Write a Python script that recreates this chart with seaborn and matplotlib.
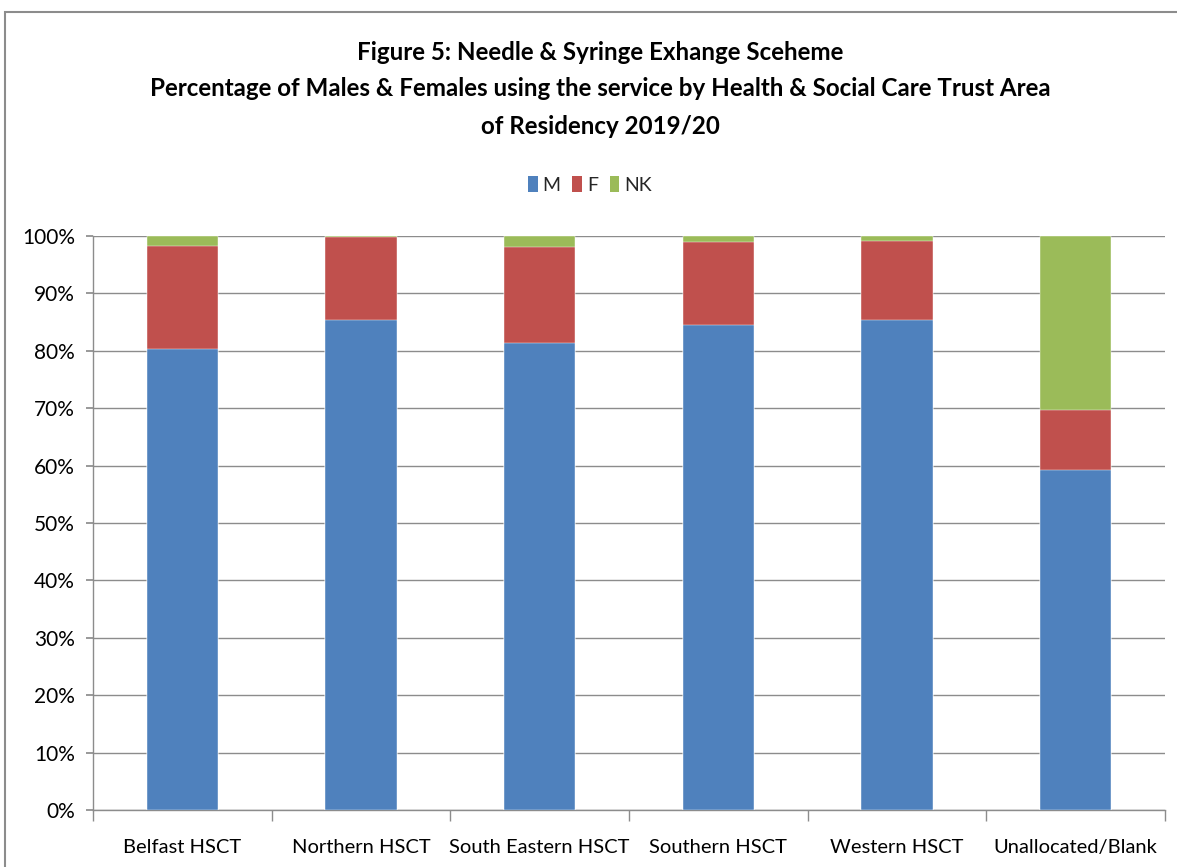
import matplotlib
matplotlib.use("Agg")
import matplotlib.pyplot as plt
import seaborn as sns
import pandas as pd
import numpy as np
from matplotlib.patches import Rectangle, Patch
from matplotlib.ticker import PercentFormatter

categories = ["Belfast HSCT", "Northern HSCT", "South Eastern HSCT", "Southern HSCT", "Western HSCT", "Unallocated/Blank"]
male = [80.4, 85.3, 81.4, 84.5, 85.3, 59.2]
female = [17.9, 14.5, 16.7, 14.5, 13.9, 10.5]
nk = [1.7, 0.2, 1.9, 1.0, 0.8, 30.3]
series = ["M", "F", "NK"]
colors = {"M": "#4F81BD", "F": "#C0504D", "NK": "#9BBB59"}

sns.set_theme(style="white")
plt.rcParams['font.family'] = ['Lato', 'DejaVu Sans']

fig = plt.figure(figsize=(11.77, 8.67), dpi=100)
ax = fig.add_axes([93/1177, 1-810/867, (1165-93)/1177, (810-236)/867])

df = pd.DataFrame({"cat": categories, "M": male, "F": female, "NK": nk})
df["cum_M"] = df["M"]
df["cum_F"] = df["M"] + df["F"]
df["cum_NK"] = df["M"] + df["F"] + df["NK"]

for s in ["NK", "F", "M"]:
    sns.barplot(data=df, x="cat", y="cum_" + s, color=colors[s], width=0.4,
                ax=ax, saturation=1, edgecolor="white", linewidth=0.3, zorder=3)

ax.set_ylim(0, 100)
ax.set_xlim(-0.5, 5.5)
ax.yaxis.set_major_locator(matplotlib.ticker.MultipleLocator(10))
ax.yaxis.set_major_formatter(PercentFormatter(decimals=0))
ax.grid(axis="y", color="#8c8c8c", linewidth=1, zorder=0)
ax.set_axisbelow(True)
ax.set_xlabel("")
ax.set_ylabel("")
for side in ["top", "right"]:
    ax.spines[side].set_visible(False)
for side in ["left", "bottom"]:
    ax.spines[side].set_color("#8c8c8c")
    ax.spines[side].set_linewidth(1)
ax.tick_params(axis="y", left=True, length=5, color="#8c8c8c", labelsize=15, pad=8, labelcolor="black")
ax.set_xticks(np.arange(len(categories)))
ax.set_xticklabels(categories)
ax.set_xticks(np.arange(-0.5, 6.0, 1.0), minor=True)
ax.tick_params(axis="x", which="major", length=0, labelsize=14.5, pad=21, labelcolor="black")
ax.tick_params(axis="x", which="minor", bottom=True, length=8, color="#8c8c8c")

handles = [Patch(facecolor=colors[s], edgecolor="none") for s in series]
fig.legend(handles, series, loc="center", bbox_to_anchor=(590/1177, 1-185/867),
           ncol=3, frameon=False, fontsize=14, handlelength=0.5, handleheight=0.9,
           handletextpad=0.25, columnspacing=0.6)

title_kw = dict(ha="center", va="center", fontsize=17.4, fontweight="bold", color="black")
tx = 600/1177
fig.text(tx, 1-52/867, "Figure 5: Needle & Syringe Exhange Sceheme", **title_kw)
fig.text(tx, 1-89/867, "Percentage of Males & Females using the service by Health & Social Care Trust Area", **title_kw)
fig.text(tx, 1-126/867, "of Residency 2019/20", **title_kw)

fig.patches.append(Rectangle((5/1177, -0.1), 1.2, 1 - 12/867 + 0.1, transform=fig.transFigure,
                             fill=False, edgecolor="#8c8c8c", linewidth=1.5))

fig.savefig("out.png", dpi=100)
